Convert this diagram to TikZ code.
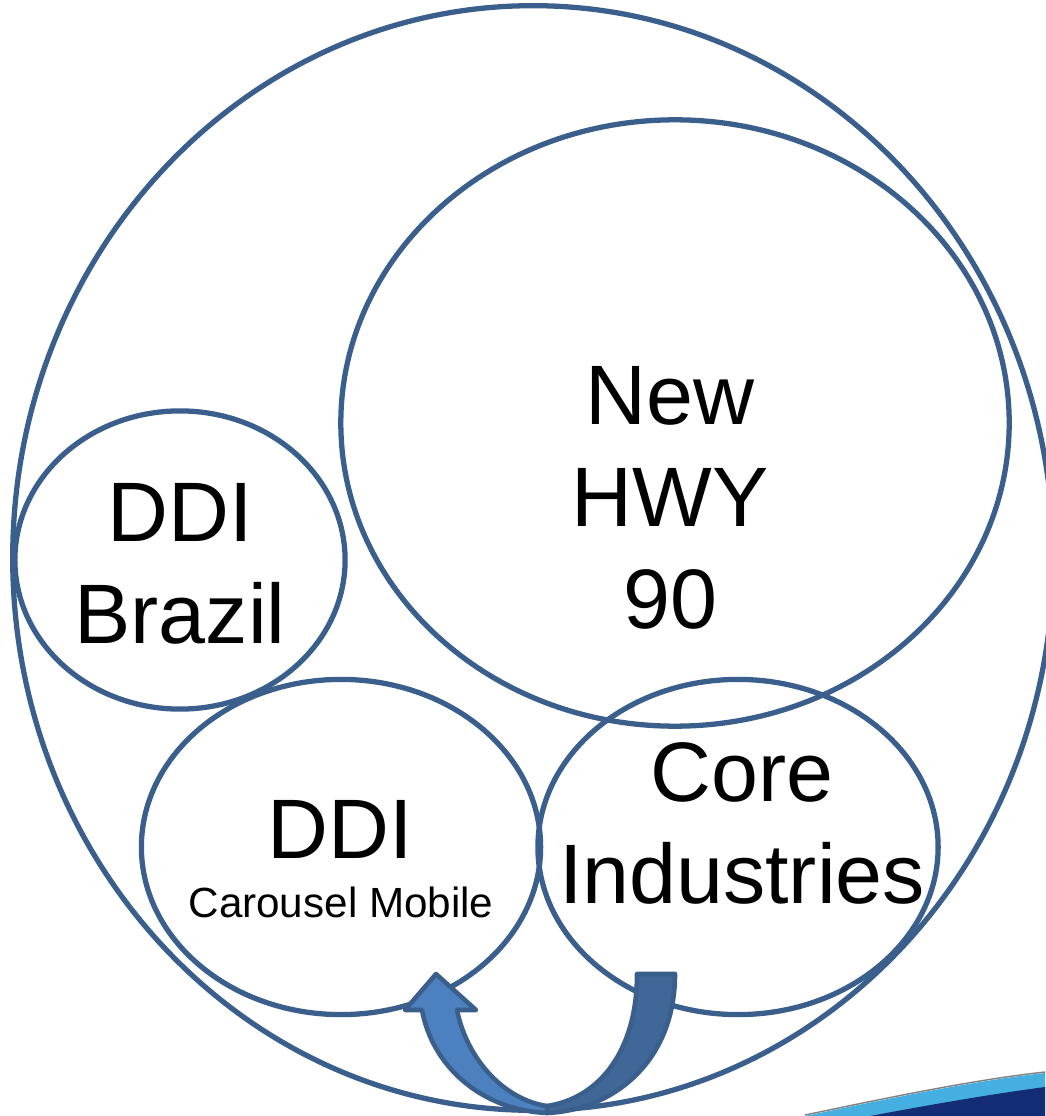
\documentclass[tikz,border=0pt]{standalone}
\usepackage{fontspec}
\setmainfont{Liberation Sans}
\usetikzlibrary{shapes.geometric}

\definecolor{ringblue}{RGB}{59,95,140}
\definecolor{arrowlight}{RGB}{77,128,190}
\definecolor{arrowdark}{RGB}{63,103,152}
\definecolor{swooshcyan}{RGB}{70,175,225}
\definecolor{swooshnavy}{RGB}{18,45,115}

\begin{document}
\begin{tikzpicture}[x = 0.01cm, y = -0.01cm, semithick]
  \tikzstyle{ring} = [draw = ringblue, line width = 1.5pt, shape = ellipse, inner sep = 0pt]
  \tikzstyle{big text} = [font = \fontsize{24}{29}\selectfont, align = center]
  \tikzstyle{small text} = [font = \fontsize{12}{14}\selectfont]
  \tikzstyle{bend arrow} = [draw = ringblue, line width = 1.3pt, line join = round]

  \useasboundingbox (0, 0) rectangle (1045, 1116);

  % slide swoosh, bottom right
  \fill[swooshcyan] (805, 1116) .. controls (900, 1096) and (980, 1080) .. (1045, 1073) -- (1045, 1116) -- cycle;
  \fill[swooshnavy] (870, 1116) .. controls (950, 1101) and (1000, 1093) .. (1045, 1087) -- (1045, 1116) -- cycle;
  \draw[gray, thin] (805, 1115) .. controls (900, 1095) and (980, 1079) .. (1045, 1072);

  % circles
  \node[ring, minimum width = 10.4cm, minimum height = 11.04cm] (world)    at (533, 558) {};
  \node[ring, minimum width = 6.68cm, minimum height = 6.06cm]  (hwy)      at (675, 423) {};
  \node[ring, minimum width = 3.3cm,  minimum height = 2.98cm]  (brazil)   at (180, 560) {};
  \node[ring, minimum width = 3.99cm, minimum height = 3.35cm]  (carousel) at (341, 847) {};
  \node[ring, minimum width = 4.0cm,  minimum height = 3.35cm]  (core)     at (738, 847) {};

  % labels
  \node[big text] (hwy label)    at (670, 498) {New\\HWY\\90};
  \node[big text] (brazil label) at (180, 564) {DDI\\Brazil};
  \node[big text, anchor = base]   (ddi label)    at (340, 858) {DDI};
  \node[small text, anchor = base] (mobile label) at (341, 917) {Carousel Mobile};
  \node[big text] (core label)   at (742, 823) {Core\\Industries};

  % curved arrow from core to carousel
  \filldraw[bend arrow, fill = arrowdark]
    (547, 1106) .. controls (600, 1098) and (637, 1050) .. (637, 974)
    -- (675, 974) .. controls (675, 1060) and (615, 1110) .. (547, 1113) -- cycle;
  \filldraw[bend arrow, fill = arrowlight]
    (547, 1113) .. controls (480, 1110) and (432, 1065) .. (422, 1010)
    -- (405, 1010) -- (436, 974) -- (476, 1010) -- (457, 1010)
    .. controls (467, 1060) and (505, 1100) .. (547, 1106) -- cycle;
\end{tikzpicture}
\end{document}
